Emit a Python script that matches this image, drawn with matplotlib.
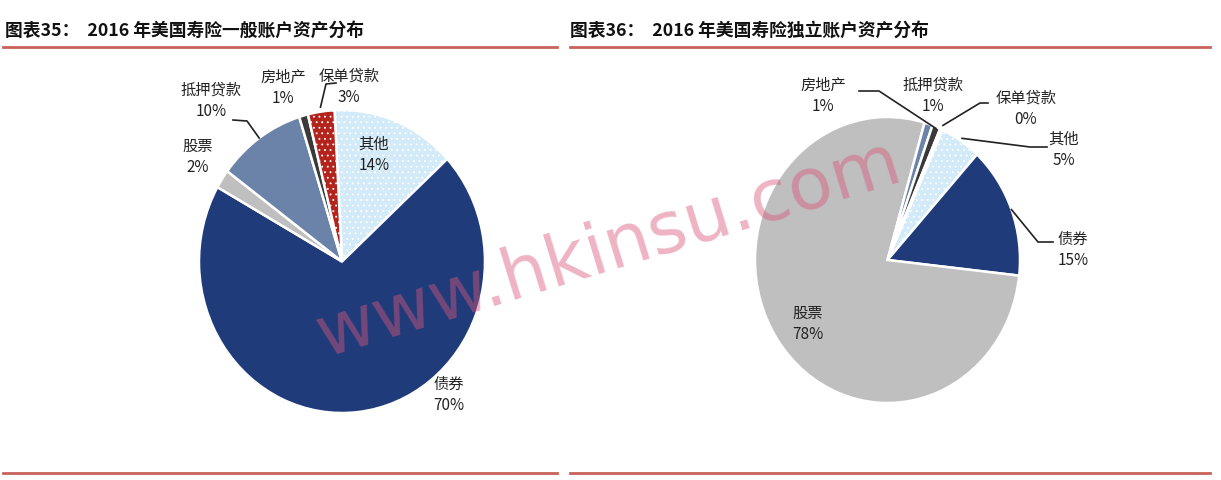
import numpy as np
import matplotlib
matplotlib.use('Agg')
import matplotlib.pyplot as plt

plt.rcParams['font.family'] = ['Noto Sans CJK SC', 'DejaVu Sans']
plt.rcParams['hatch.linewidth'] = 0.6

W, H = 1221, 480

# data
cats = ['其他', '债券', '股票', '抵押贷款', '房地产', '保单贷款']
general = [14, 70, 2, 10, 1, 3]
separate = [5, 15, 78, 1, 1, 0.3]

colors = ['#D3EBF8', '#1F3B7A', '#BFBFBF', '#6B83A8', '#3A3A3A', '#B3241C']
hatches = ['...', '', '', '', '', '...']

title_l = '图表35：  2016 年美国寿险一般账户资产分布'
title_r = '图表36：  2016 年美国寿险独立账户资产分布'

fig = plt.figure(figsize=(W / 100, H / 100), dpi=100)

ov = fig.add_axes([0, 0, 1, 1], zorder=5)
ov.set_xlim(0, W)
ov.set_ylim(H, 0)
ov.axis('off')


def pie_axes(x0, x1, y0, y1):
    # pixel box (top-left origin) -> axes
    return fig.add_axes([x0 / W, (H - y1) / H, (x1 - x0) / W, (y1 - y0) / H])


def draw_pie(ax, vals, start):
    wedges, _ = ax.pie(vals, colors=colors, startangle=start, counterclock=False,
                       wedgeprops=dict(edgecolor='white', linewidth=1.8),
                       frame=True)
    for w, h in zip(wedges, hatches):
        w.set_hatch(h)
    ax.set_xlim(-1, 1)
    ax.set_ylim(-1, 1)
    ax.set_aspect('auto')
    ax.axis('off')
    return wedges


def edge_pt(ax, wedge, r=1.0):
    a = np.deg2rad((wedge.theta1 + wedge.theta2) / 2)
    disp = ax.transData.transform((r * np.cos(a), r * np.sin(a)))
    return ov.transData.inverted().transform(disp)


def label(x, y, name, v, color='#222222'):
    ov.text(x, y, f'{name}\n{v:.0f}%', ha='center', va='center', fontsize=11,
            color=color, linespacing=1.35)


def leader(ax, wedge, pts, r=1.0):
    p = edge_pt(ax, wedge, r)
    xs = [q[0] for q in pts] + [p[0]]
    ys = [q[1] for q in pts] + [p[1]]
    ov.plot(xs, ys, color='#222222', lw=1.2)


# left pie: general account
axl = pie_axes(199, 485, 110, 413)
wl = draw_pie(axl, general, 93)
label(374, 155, cats[0], general[0])
label(449, 395, cats[1], general[1])
label(198, 157, cats[2], general[2])
label(211, 101, cats[3], general[3])
label(283, 88, cats[4], general[4])
label(349, 87, cats[5], general[5])
leader(axl, wl[3], [(233, 120), (247, 121)], 1.0)
leader(axl, wl[5], [(336, 83), (326, 84)], 1.03)

# right pie: separate account
axr = pie_axes(755, 1020, 117, 403)
wr = draw_pie(axr, separate, 65.5)
label(808, 324, cats[2], separate[2])
label(1064, 150, cats[0], separate[0])
label(1073, 250, cats[1], separate[1])
label(933, 96, cats[3], separate[3])
label(823, 96, cats[4], separate[4])
label(1026, 109, cats[5], separate[5])
leader(axr, wr[4], [(859, 91), (879, 91)], 0.99)
leader(axr, wr[5], [(988, 103), (980, 103)], 1.03)
leader(axr, wr[0], [(1047, 147), (1030, 147)], 1.02)
leader(axr, wr[1], [(1053, 242), (1038, 242)], 1.0)

# titles and rules
red = '#C9625A'
ov.text(5, 31, title_l, fontsize=12.8, fontweight='bold', va='center', color='#111111')
ov.text(570, 31, title_r, fontsize=12.8, fontweight='bold', va='center', color='#111111')
ov.plot([3, 557], [47, 47], color=red, lw=2)
ov.plot([570, 1210], [47, 47], color=red, lw=2)
ov.plot([3, 557], [473, 473], color=red, lw=2)
ov.plot([570, 1210], [473, 473], color=red, lw=2)

# watermark
ov.text(610, 250, 'www.hkinsu.com', fontsize=52, color='#D9577A', alpha=0.45,
        rotation=17, ha='center', va='center', family='DejaVu Sans')

fig.savefig('out.png', dpi=100)
